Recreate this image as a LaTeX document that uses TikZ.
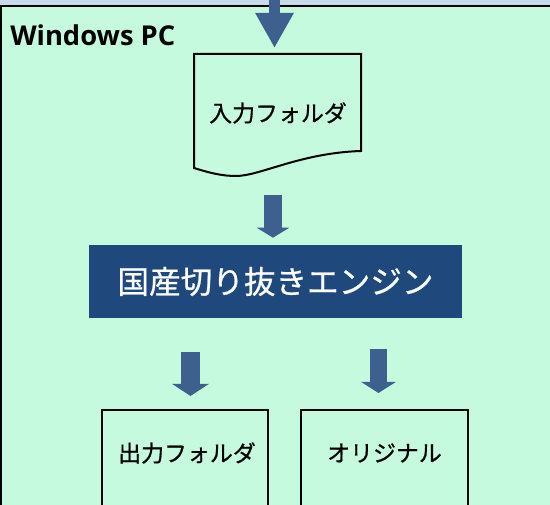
\documentclass[tikz,border=0pt]{standalone}
\usepackage{fontspec}
\setmainfont{Noto Sans CJK JP}
\newfontfamily\latfont{Open Sans}
\newfontfamily\jpfont{Noto Sans CJK JP}[FakeBold=0.7]
\usetikzlibrary{arrows.meta,calc}
\definecolor{bggreen}{RGB}{198,250,223}
\definecolor{topstrip}{RGB}{201,217,236}
\definecolor{arrowblue}{RGB}{61,96,143}
\definecolor{enginebg}{RGB}{31,73,125}
\tikzset{
  frameline/.style={draw=black, line width=2*0.75pt},
  boxline/.style={draw=black, line width=2*0.75pt},
  lbl/.style={font=\jpfont\fontsize{17.2}{20}\selectfont, inner sep=0pt, anchor=center},
  enginebox/.style={fill=enginebg, text=white, inner sep=0pt,
    minimum width=373*0.75pt, minimum height=73*0.75pt,
    font=\jpfont\fontsize{23.7}{28}\selectfont},
  emptybox/.style={boxline, fill=bggreen, inner sep=0pt, anchor=north west},
}
\begin{document}
\begin{tikzpicture}[x=0.75pt,y=-0.75pt]
\useasboundingbox (0,0) rectangle (550,505);
\clip (0,0) rectangle (550,505);
% background
\fill[topstrip] (0,0) rectangle (550,6);
\filldraw[fill=bggreen, frameline] (1,6) rectangle (600,600);
\node[font=\latfont\bfseries\fontsize{20.5}{25}\selectfont, anchor=base west, inner sep=0pt] (title) at (10,45.7) {Windows PC};
% document shape
\filldraw[fill=bggreen, boxline] (194,168) -- (194,54) -- (361,54) -- (361,151)
  .. controls (300,153) and (260,176) .. (236,176)
  .. controls (222,176) and (210,173) .. (194,168) -- cycle;
\node[lbl] (infolder) at (278,113) {入力フォルダ};
\coordinate (docnorth) at (274.5,54);
% engine
\node[enginebox] (engine) at (275.5,281.5) {国産切り抜きエンジン};
% output boxes
\node[emptybox, minimum width=166*0.75pt, minimum height=130*0.75pt] (outbox) at (101,409) {};
\node[emptybox, minimum width=167*0.75pt, minimum height=130*0.75pt] (origbox) at (300,409) {};
\node[lbl] (outfolder) at ($(outbox.north)+(2,44)$) {出力フォルダ};
\node[lbl] (original) at ($(origbox.north)+(0,44)$) {オリジナル};
% arrows
\coordinate (a1) at (274.5,-5);
\coordinate (a2) at (273,195);
\coordinate (a3) at (190.5,352);
\coordinate (a4) at (378.5,349);
\draw[draw=arrowblue, line width=11*0.75pt, shorten >=6*0.75pt,
  -{Triangle[width=36*0.75pt, length=35*0.75pt, fill=arrowblue]}] (a1) -- (docnorth);
\draw[draw=arrowblue, line width=18*0.75pt, shorten >=7*0.75pt,
  -{Triangle[width=32*0.75pt, length=10*0.75pt, fill=arrowblue]}] (a2) -- (a2 |- engine.north);
\draw[draw=arrowblue, line width=19*0.75pt, shorten >=13*0.75pt,
  -{Triangle[width=36*0.75pt, length=12*0.75pt, fill=arrowblue]}] (a3) -- (a3 |- outbox.north);
\draw[draw=arrowblue, line width=17*0.75pt, shorten >=16*0.75pt,
  -{Triangle[width=34*0.75pt, length=11*0.75pt, fill=arrowblue]}] (a4) -- (a4 |- origbox.north);
\end{tikzpicture}
\end{document}
